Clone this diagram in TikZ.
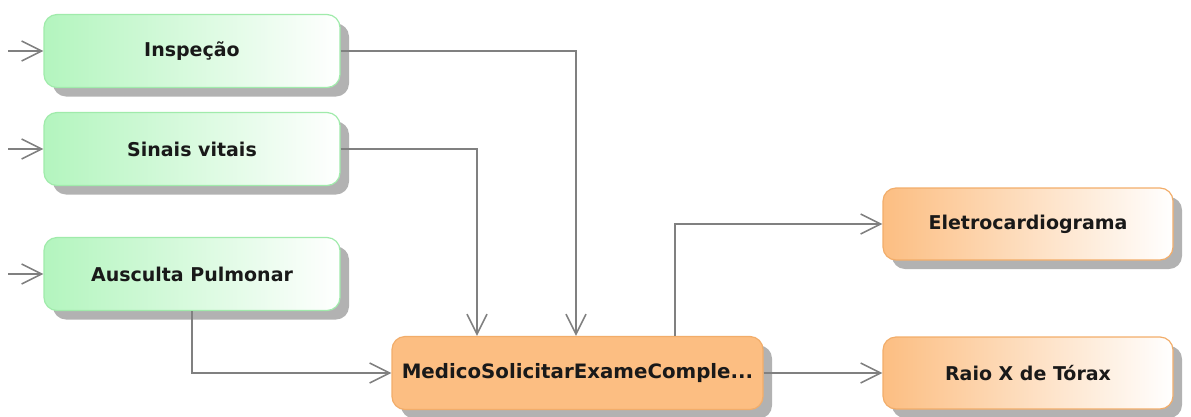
\documentclass[tikz,border=0pt]{standalone}
\usepackage{fontspec}
\setmainfont{DejaVu Sans}
\usetikzlibrary{arrows.meta,shadows,calc}
\definecolor{grnL}{HTML}{B3F5BE}
\definecolor{grnB}{HTML}{A0EBAB}
\definecolor{orgL}{HTML}{FCBE82}
\definecolor{orgB}{HTML}{F2AD6A}
\definecolor{lineC}{HTML}{808080}
\definecolor{shd}{HTML}{B2B2B2}
\tikzset{
  box/.style={rounded corners=13pt, line width=1.2pt, inner sep=0pt,
    font=\bfseries\fontsize{19}{21}\selectfont, text=black!90,
    drop shadow={shadow xshift=9pt, shadow yshift=-9pt, fill=shd, opacity=1}},
  gbox/.style={box, draw=grnB, left color=grnL, right color=white,
    minimum width=296pt, minimum height=73pt},
  obox/.style={box, draw=orgB, left color=orgL, right color=white,
    minimum width=290pt, minimum height=72pt},
  mbox/.style={box, draw=orgB, fill=orgL, minimum width=371pt, minimum height=73pt,
    font=\bfseries\fontsize{19.8}{21}\selectfont},
  conn/.style={draw=lineC, line width=1.6pt,
    -{Straight Barb[length=20pt,width=20pt,line width=1.6pt]}}
}
\begin{document}
\begin{tikzpicture}[x=1pt,y=-1pt]
\useasboundingbox (0,0) rectangle (1191,416);
\node[gbox] (insp) at (192,51) {Inspeção};
\node[gbox] (sin) at (192,149) {Sinais vitais};
\node[gbox] (aus) at (192,274) {Ausculta Pulmonar};
\node[mbox] (med) at (577.5,373) {MedicoSolicitarExameComple...};
\node[obox] (ele) at (1028,224) {Eletrocardiograma};
\node[obox] (rx) at (1028,373) {Raio X de Tórax};
\coordinate (i1) at (8,51);
\coordinate (i2) at (8,149);
\coordinate (i3) at (8,274);
\draw[conn] (i1) -- (insp.west);
\draw[conn] (i2) -- (sin.west);
\draw[conn] (i3) -- (aus.west);
\draw[conn] (insp.east) -| ([xshift=-1.5pt]med.north);
\draw[conn] (sin.east) -| ([xshift=-100.5pt]med.north);
\draw[conn] (aus.south) |- (med.west);
\draw[conn] ([xshift=97.5pt]med.north) |- (ele.west);
\draw[conn] (med.east) -- (rx.west);
\end{tikzpicture}
\end{document}
